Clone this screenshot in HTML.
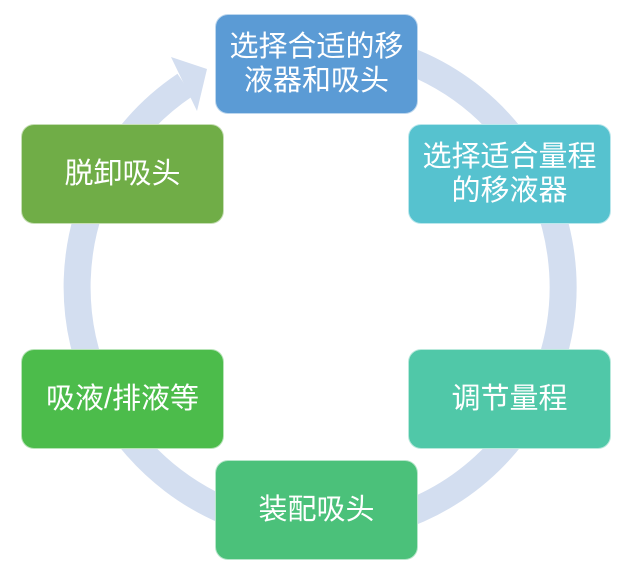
<!DOCTYPE html>
<html><head><meta charset="utf-8"><style>
body{margin:0;width:630px;height:576px;background:#fff;position:relative;overflow:hidden;font-family:"Liberation Sans","Noto Sans CJK SC",sans-serif}
.b{position:absolute;width:203px;height:100px;border-radius:13px;color:#fff;font-size:29px;line-height:34px;display:flex;align-items:center;justify-content:center;text-align:center;box-sizing:border-box;border:1px solid rgba(255,255,255,0.6)}
svg{position:absolute;left:0;top:0}
</style></head><body>
<svg width="630" height="576">
<path d="M185,85 A243,243 0 1 0 317,44" fill="none" stroke="#D3DEF0" stroke-width="27"/>
<polygon points="171,57 207,69 197,111" fill="#D3DEF0"/>
</svg>
<div class="b" style="left:215px;top:14px;background:#5B9BD5">选择合适的移<br>液器和吸头</div>
<div class="b" style="left:408px;top:124px;background:#56C2CF">选择适合量程<br>的移液器</div>
<div class="b" style="left:408px;top:349px;background:#50C8A8">调节量程</div>
<div class="b" style="left:215px;top:460px;background:#4BC17A">装配吸头</div>
<div class="b" style="left:21px;top:349px;background:#4CBC4B">吸液/排液等</div>
<div class="b" style="left:21px;top:124px;background:#70AD47">脱卸吸头</div>
</body></html>
